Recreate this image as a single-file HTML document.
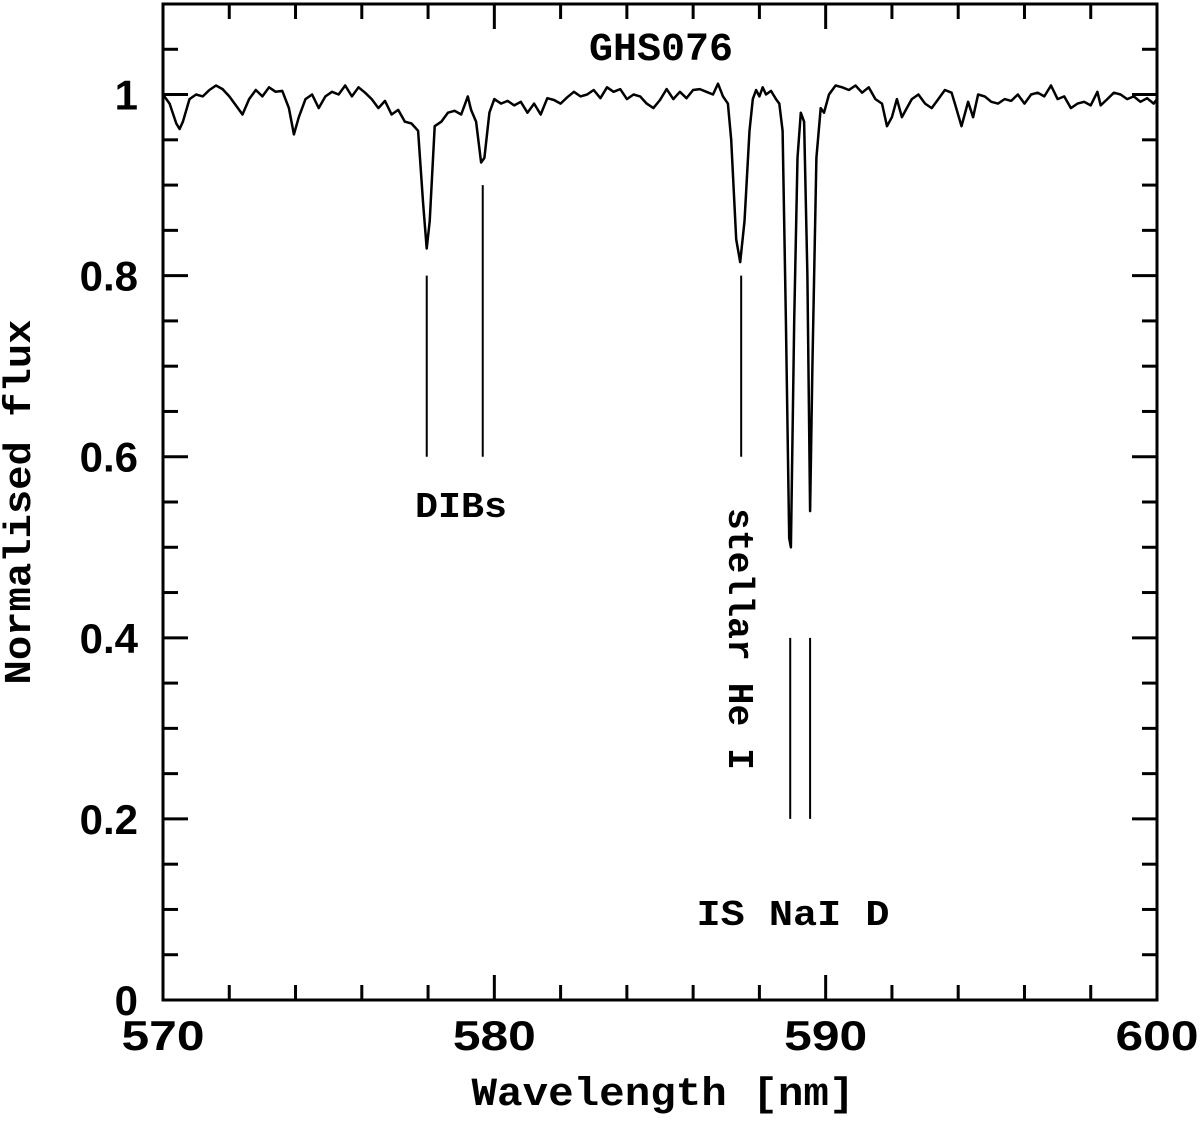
<!DOCTYPE html>
<html><head><meta charset="utf-8"><style>
html,body{margin:0;padding:0;background:#fff;}
svg{display:block;}
.t{font-family:"Liberation Mono",monospace;font-weight:bold;fill:#000;}
.n{font-family:"Liberation Sans",sans-serif;font-weight:bold;fill:#000;font-size:42px;}
</style></head><body>
<svg id="chart" width="1200" height="1121" viewBox="0 0 1200 1121" xmlns="http://www.w3.org/2000/svg">
<g id="axes"></g>
<path id="spec" fill="none" stroke="#000" stroke-width="2.5" stroke-linejoin="round"/>
<g id="marks"></g>
<text class="t" x="661" y="60" font-size="40" text-anchor="middle">GHS076</text>
<text class="t" x="663" y="1105" font-size="40" text-anchor="middle" textLength="383" lengthAdjust="spacingAndGlyphs">Wavelength [nm]</text>
<text class="t" transform="translate(30,502) rotate(-90)" font-size="38" text-anchor="middle" textLength="365" lengthAdjust="spacingAndGlyphs">Normalised flux</text>
<text class="t" x="461" y="517" font-size="36" text-anchor="middle" textLength="92" lengthAdjust="spacingAndGlyphs">DIBs</text>
<text class="t" transform="translate(729,639) rotate(90)" font-size="36" text-anchor="middle" textLength="262" lengthAdjust="spacingAndGlyphs">stellar He I</text>
<text class="t" x="793" y="925" font-size="36" text-anchor="middle" textLength="193" lengthAdjust="spacingAndGlyphs">IS NaI D</text>
</svg>
<script>
const wavelengths=[570.0,570.2,570.4,570.5,570.6,570.8,571.0,571.2,571.4,571.6,571.8,572.0,572.2,572.4,572.6,572.8,573.0,573.2,573.4,573.6,573.8,573.95,574.1,574.3,574.5,574.7,574.9,575.1,575.3,575.5,575.7,575.9,576.1,576.3,576.5,576.7,576.9,577.1,577.3,577.5,577.7,577.85,577.96,578.05,578.2,578.4,578.6,578.8,579.0,579.2,579.3,579.45,579.6,579.7,579.85,580.0,580.2,580.4,580.6,580.8,581.0,581.2,581.4,581.6,581.8,582.0,582.2,582.4,582.6,582.8,583.0,583.2,583.4,583.6,583.8,584.0,584.2,584.4,584.6,584.8,585.0,585.2,585.4,585.6,585.8,586.0,586.2,586.4,586.6,586.75,586.9,587.05,587.15,587.3,587.42,587.55,587.7,587.8,587.9,588.0,588.1,588.2,588.35,588.5,588.6,588.7,588.8,588.9,588.95,589.05,589.15,589.25,589.35,589.45,589.53,589.6,589.72,589.85,589.95,590.1,590.3,590.5,590.7,590.9,591.1,591.3,591.5,591.7,591.85,592.0,592.15,592.3,592.45,592.6,592.8,593.0,593.2,593.4,593.6,593.8,593.9,594.1,594.3,594.45,594.6,594.8,595.0,595.2,595.4,595.6,595.8,596.0,596.2,596.4,596.6,596.8,597.0,597.2,597.4,597.6,597.8,598.0,598.2,598.3,598.5,598.7,598.9,599.1,599.3,599.5,599.7,599.9,600.0];
const fluxes=[1.000,0.990,0.968,0.962,0.970,0.995,1.000,0.998,1.005,1.010,1.006,0.998,0.988,0.978,0.995,1.005,0.998,1.008,1.003,1.004,0.985,0.956,0.975,0.995,1.000,0.985,0.998,1.003,1.000,1.010,0.998,1.008,1.002,0.995,0.985,0.993,0.978,0.983,0.970,0.968,0.960,0.880,0.830,0.860,0.965,0.970,0.980,0.982,0.978,0.998,0.983,0.970,0.925,0.930,0.980,0.995,0.990,0.993,0.988,0.992,0.980,0.990,0.978,0.996,0.994,0.990,0.997,1.003,0.998,1.000,1.005,0.996,1.008,1.003,1.006,0.995,1.000,0.998,0.990,0.985,0.994,1.006,0.995,1.003,0.996,1.005,1.006,1.003,1.000,1.012,0.998,0.990,0.950,0.840,0.815,0.860,0.960,0.995,1.005,0.998,1.008,1.000,1.004,0.995,0.990,0.960,0.750,0.510,0.500,0.750,0.930,0.980,0.970,0.800,0.540,0.700,0.930,0.985,0.980,1.000,1.010,1.008,1.005,1.010,1.002,1.008,0.995,0.990,0.965,0.975,0.995,0.975,0.985,0.995,1.000,0.990,0.985,0.995,1.005,1.002,0.990,0.965,0.992,0.975,1.000,0.998,0.992,0.990,0.995,0.993,1.000,0.990,1.000,1.002,0.998,1.010,0.995,0.998,0.985,0.990,0.992,0.988,1.003,0.988,0.995,1.002,1.000,0.995,0.998,0.992,0.996,0.990,0.995];
const xTickLabels=[570,580,590,600];
const yTickLabels=["0","0.2","0.4","0.6","0.8","1"];
const markerWavelengths=[577.96,579.65,587.45,588.93,589.53];
const markerTops=[0.8,0.9,0.8,0.4,0.4];
const markerBottoms=[0.6,0.6,0.6,0.2,0.2];

const L=163,R=1157,B=1000,T=4;
const xs=w=>L+(w-570)/30*(R-L);
const ys=f=>B-f/1.1*(B-T);
const NS="http://www.w3.org/2000/svg";
const axes=document.getElementById('axes');
function ln(p,x1,y1,x2,y2,w,name){const e=document.createElementNS(NS,'line');
e.setAttribute('x1',x1);e.setAttribute('y1',y1);e.setAttribute('x2',x2);e.setAttribute('y2',y2);
e.setAttribute('stroke','#000');e.setAttribute('stroke-width',w);


p.appendChild(e);return e;}
const fr=document.createElementNS(NS,'rect');
fr.setAttribute('x',L);fr.setAttribute('y',T);fr.setAttribute('width',R-L);fr.setAttribute('height',B-T);
fr.setAttribute('fill','none');fr.setAttribute('stroke','#000');fr.setAttribute('stroke-width','3');


axes.appendChild(fr);
for(let w=570;w<=600.001;w+=2){const x=xs(w);const major=Math.abs(w%10)<0.01;const len=major?25:15;
ln(axes,x,B,x,B-len,3,'x-tick');ln(axes,x,T,x,T+len,3,'x-tick-top');}
for(let i=0;i<=22;i++){const f=i*0.05;const y=ys(f);const major=i%4===0;const len=major?25:15;
ln(axes,L,y,L+len,y,3,'y-tick');ln(axes,R,y,R-len,y,3,'y-tick-right');}
xTickLabels.forEach(v=>{const t=document.createElementNS(NS,'text');t.setAttribute('class','n');
t.setAttribute('x',xs(v));t.setAttribute('y',1050);t.setAttribute('text-anchor','middle');
t.setAttribute('textLength',83);t.setAttribute('lengthAdjust','spacingAndGlyphs');t.textContent=v;


axes.appendChild(t);});
yTickLabels.forEach(v=>{const t=document.createElementNS(NS,'text');t.setAttribute('class','n');
t.setAttribute('x',138);t.setAttribute('y',ys(parseFloat(v))+15);t.setAttribute('text-anchor','end');t.textContent=v;


axes.appendChild(t);});
let d='';wavelengths.forEach((w,i)=>{d+=(i?'L':'M')+xs(w).toFixed(1)+' '+ys(fluxes[i]).toFixed(1);});
document.getElementById('spec').setAttribute('d',d);
const marks=document.getElementById('marks');
markerWavelengths.forEach((w,i)=>{ln(marks,xs(w),ys(markerTops[i]),xs(w),ys(markerBottoms[i]),2,'line-marker');});
</script>
</body></html>
